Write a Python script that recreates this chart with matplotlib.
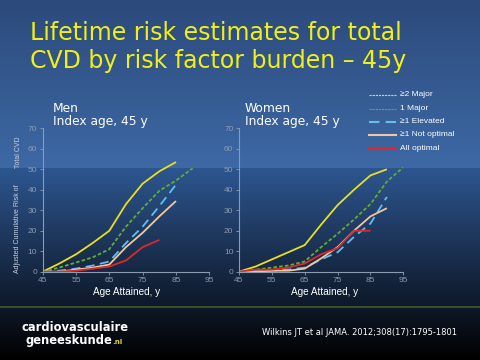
import numpy as np
import matplotlib
matplotlib.use("Agg")
import matplotlib.pyplot as plt

# ---- data ----
ages = [45, 50, 55, 60, 65, 70, 75, 80, 85, 90, 95]
series_names = ["\u22652 Major", "1 Major", "\u22651 Elevated", "\u22651 Not optimal", "All optimal"]

men_two_major = [0, 4, 8.5, 14, 20, 33, 43, 49, 53.5]
men_one_major = [0, 2, 4.5, 7, 11, 22, 31, 39.5, 44.5, 50.5]
men_elevated = [0, 0.5, 1.5, 3, 5, 14, 22, 32, 42.5]
men_not_optimal = [0, 0, 1, 2, 3.5, 12, 19, 27, 34.5]
men_all_optimal = [0, 0, 0.5, 1.5, 2.5, 5.5, 12, 15.5]

women_two_major = [0, 2.5, 6, 9.5, 13, 23, 32.5, 40, 47, 50]
women_one_major = [0, 1, 2, 3, 5, 12, 18.5, 25.5, 33, 44, 51]
women_elevated = [0, 0.5, 0.5, 1, 2, 6, 9.5, 17, 23.5, 36.5]
women_not_optimal = [0, 0, 0.5, 0.5, 1.5, 6.5, 12, 20, 27, 31]
women_all_optimal = [0, 1, 1, 2, 4, 8.5, 11.5, 20, 20]

x_ticks = [45, 55, 65, 75, 85, 95]
y_ticks = [0, 10, 20, 30, 40, 50, 60, 70]

colors = ["#e8e020", "#60b030", "#60c0f0", "#f0c8a0", "#e02828"]
styles = ["-", (0, (2, 1.2)), (0, (5, 3)), "-", "-"]

W, H = 480, 360
fig = plt.figure(figsize=(4.8, 3.6), dpi=100)
ARIAL = "Liberation Sans"

# ---- background ----
bg = fig.add_axes([0, 0, 1, 1])
bg.set_axis_off()
img = np.zeros((H, 1, 3))
def hexrgb(h):
    h = h.lstrip("#")
    return np.array([int(h[i:i+2], 16) / 255 for i in (0, 2, 4)])
top1, top2 = hexrgb("#2c4a7b"), hexrgb("#3d69a5")
mid1, mid2 = hexrgb("#2d5690"), hexrgb("#0e1828")
foot1, foot2 = hexrgb("#0e1826"), hexrgb("#000000")
for y in range(H):
    if y < 168:
        t = y / 168
        img[y, 0] = top1 * (1 - t) + top2 * t
    elif y < 306:
        t = (y - 168) / (306 - 168)
        img[y, 0] = mid1 * (1 - t) + mid2 * t
    elif y < 308:
        img[y, 0] = hexrgb("#34502c")
    else:
        t = (y - 308) / (H - 308)
        img[y, 0] = foot1 * (1 - t) + foot2 * t
bg.imshow(img, aspect="auto", extent=[0, 1, 0, 1], interpolation="bilinear")
bg.set_xlim(0, 1)
bg.set_ylim(0, 1)

def fx(px):
    return px / W
def fy(py):
    return 1 - py / H

# ---- title ----
fig.text(fx(30), fy(40), "Lifetime risk estimates for total", color="#f0f018",
         fontsize=17, ha="left", va="baseline", family="DejaVu Sans")
fig.text(fx(30), fy(68), "CVD by risk factor burden \u2013 45y", color="#f0f018",
         fontsize=17, ha="left", va="baseline", family="DejaVu Sans")

axcol = "#8d9ab0"

def make_panel(left_px, right_px, data, label, label_x, xlabel_cx):
    ax = fig.add_axes([fx(left_px), fy(271.7), (right_px - left_px) / W, (271.7 - 128.3) / H])
    ax.patch.set_alpha(0)
    for vals, c, ls in zip(data, colors, styles):
        ax.plot(ages[:len(vals)], vals, color=c, linestyle=ls, lw=1.3, solid_capstyle="butt")
    ax.set_xlim(45, 95)
    ax.set_ylim(0, 70)
    ax.set_xticks(x_ticks)
    ax.set_yticks(y_ticks)
    for s in ["top", "right"]:
        ax.spines[s].set_visible(False)
    for s in ["left", "bottom"]:
        ax.spines[s].set_color(axcol)
        ax.spines[s].set_linewidth(0.8)
    ax.tick_params(colors=axcol, labelsize=6, length=2, width=0.6, pad=2)
    for lab in ax.get_xticklabels() + ax.get_yticklabels():
        lab.set_family(ARIAL)
    fig.text(fx(xlabel_cx), fy(295), "Age Attained, y", color="white", fontsize=7.2,
             family=ARIAL, ha="center", va="baseline")
    fig.text(fx(label_x), fy(111.5), label, color="white", fontsize=8.8, ha="left", va="baseline")
    fig.text(fx(label_x), fy(125), "Index age, 45 y", color="white", fontsize=8.8, ha="left", va="baseline")
    return ax

men = make_panel(42.7, 209.3, [men_two_major, men_one_major, men_elevated, men_not_optimal, men_all_optimal], "Men", 53, 127)
women = make_panel(239, 403.3, [women_two_major, women_one_major, women_elevated, women_not_optimal, women_all_optimal], "Women", 245, 325)

fig.text(fx(18), fy(229), "Adjusted Cumulative Risk of", rotation=90,
         color="#c8d0e0", fontsize=5, family=ARIAL, ha="center", va="center")
fig.text(fx(18), fy(152), "Total CVD", rotation=90,
         color="#c8d0e0", fontsize=5, family=ARIAL, ha="center", va="center")

# ---- legend ----
leg_y = [95, 108.5, 121.5, 134.5, 148]
for name, c, ls, yy in zip(series_names, colors, styles, leg_y):
    thin = name in ("\u22652 Major", "1 Major")
    lw = 0.8 if thin else 1.5
    ls2 = (0, (2, 0.8)) if thin else ls
    bg.plot([fx(369), fx(396)], [fy(yy), fy(yy)], color=c, lw=lw, linestyle=ls2,
            transform=fig.transFigure)
    fig.text(fx(400), fy(yy), name, color="white", fontsize=6, family=ARIAL,
             ha="left", va="center")

# ---- footer ----
fig.text(fx(21), fy(331), "cardiovasculaire", color="white", fontsize=8.3,
         fontweight="bold", ha="left", va="baseline")
fig.text(fx(26), fy(344), "geneeskunde", color="white", fontsize=8.3,
         fontweight="bold", ha="left", va="baseline")
fig.text(fx(112), fy(344), ".nl", color="#e0d820", fontsize=5,
         fontweight="bold", ha="left", va="baseline")
fig.text(fx(262), fy(335), "Wilkins JT et al JAMA. 2012;308(17):1795-1801", color="white",
         fontsize=6, ha="left", va="baseline")

fig.savefig("out.png", dpi=100)
